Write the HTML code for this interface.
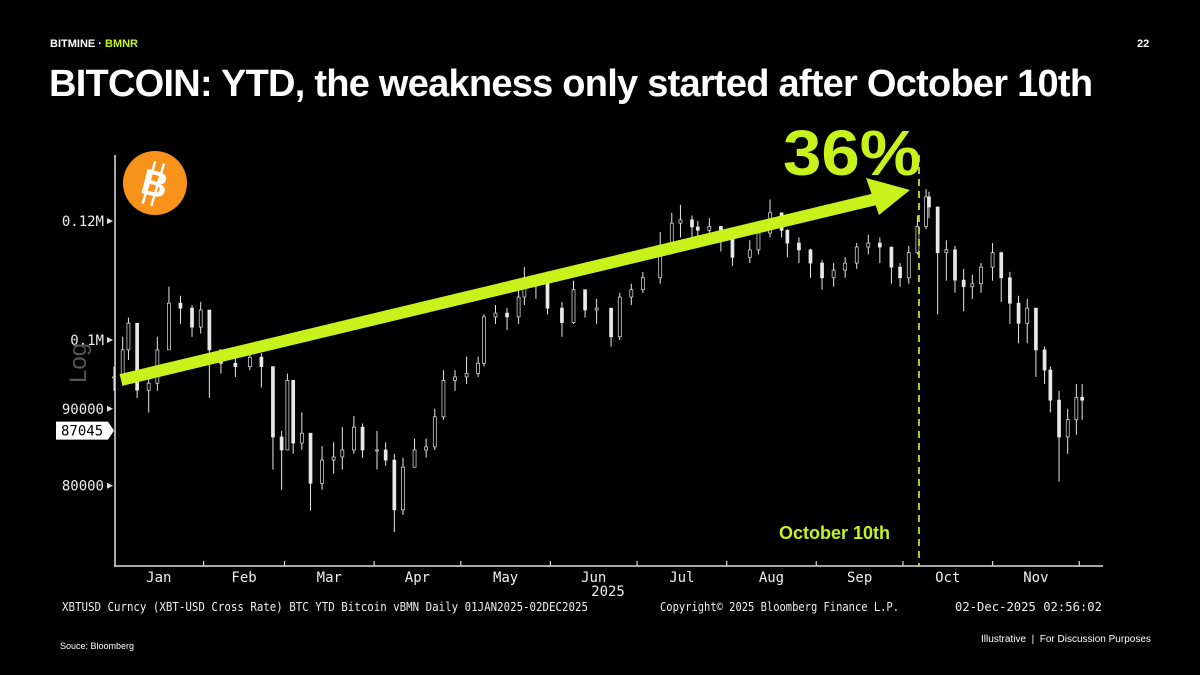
<!DOCTYPE html>
<html><head><meta charset="utf-8">
<style>
html,body{margin:0;padding:0;background:#000;}
body{width:1200px;height:675px;position:relative;overflow:hidden;font-family:"Liberation Sans",sans-serif;color:#fff;}
.a{position:absolute;white-space:nowrap;}
</style></head>
<body>
<div class="a" style="left:50px;top:38px;font-size:11px;font-weight:bold;">BITMINE · <span style="color:#c8f21c">BMNR</span></div>
<div class="a" style="left:1137px;top:38px;font-size:11px;font-weight:bold;">22</div>
<div class="a" style="left:49px;top:63px;font-size:38px;font-weight:bold;letter-spacing:-0.75px;">BITCOIN: YTD, the weakness only started after October 10th</div>
<svg id="chart" width="1200" height="675" style="position:absolute;left:0;top:0;"></svg>
<div class="a" style="left:60px;top:641px;font-size:9px;">Souce: Bloomberg</div>
<div class="a" style="left:981px;top:634px;font-size:10px;">Illustrative &nbsp;|&nbsp; For Discussion Purposes</div>
<script>
const dates=[1,4,6,9,13,16,20,24,28,31,34,38,43,48,52,56,59,61,63,66,69,73,77,80,84,87,92,95,98,101,105,109,112,115,119,123,127,129,133,137,141,143,147,151,156,160,164,168,173,176,180,184,190,194,197,201,203,207,211,215,221,224,228,232,234,238,242,246,250,254,258,262,266,270,273,276,279,282,283,286,289,292,295,298,301,305,308,311,314,317,320,323,325,328,331,334,336];
const closes=[94500,98500,102600,92600,93600,98500,105800,105000,102000,104700,98500,96500,96000,97400,96000,86200,84500,94000,85400,86700,80300,83200,83600,84500,87500,84500,84500,83200,77100,82300,84500,84900,88900,94000,94500,95000,96500,103600,104200,103600,106800,110000,109000,105000,102700,108000,104700,105000,100500,106800,108000,110000,114300,119600,120200,118900,118300,119000,117000,113500,114800,117800,121500,118300,116000,114800,112500,110000,111300,112500,115300,116000,115300,111800,110000,114300,119000,124500,122600,114300,114800,109600,108500,109000,111800,114300,110000,105800,102600,105000,98500,95500,91200,86200,88500,91600,91200,87000];
const highs=[96000,100500,103500,99000,95500,100500,108500,107000,105500,106000,102500,98500,98500,99000,98000,92000,87000,95000,93000,89500,84000,85000,85500,87500,89000,88000,87000,85500,84000,83500,86000,86000,90000,95500,95500,97500,97500,104000,105500,105000,108000,111800,110500,108500,106000,109500,107000,106500,103000,107500,109000,111000,118000,121500,123000,121000,120000,120500,119000,117000,116500,119000,124000,121500,118500,117000,115000,113000,112500,113500,116000,117500,117000,114500,112500,115500,121000,126000,125500,122600,116500,115500,111500,110500,112500,116000,114500,111000,107000,106500,104000,99000,96000,92500,90000,93500,93500,92000];
const lows=[92500,93500,97000,91500,89500,92500,99000,102500,100500,101000,91500,95000,94500,95500,93000,82000,79500,85000,84000,84500,77000,79500,81500,82000,84000,83500,82000,82500,74500,76500,83000,83500,84500,88500,92500,93500,94500,96000,102500,101500,102500,105500,106500,104000,100500,102500,103500,102500,99000,100000,105500,107500,109000,114000,117000,116500,115500,116500,114500,112000,112500,114000,117000,117000,113500,112500,110000,108000,108500,110000,111500,114000,112500,109000,108500,109000,114000,118500,120500,104000,109500,107500,104500,106500,107500,109500,106000,102500,99500,99500,94500,93500,89500,80500,84000,86500,88500,84000];
const yTicks=[120000,100000,90000,80000];
const yTickLabels=["0.12M","0.1M","90000","80000"];
const monthStarts=[32,60,91,121,152,182,213,244,274,305,335];
const monthLabels=["Jan","Feb","Mar","Apr","May","Jun","Jul","Aug","Sep","Oct","Nov"];
const lastPrice=[87045];
const NS="http://www.w3.org/2000/svg";
const svg=document.getElementById('chart');
const xS=d=>114+(d-1)*2.89;
const yS=v=>340-653*Math.log(v/100000);
const MONO='"DejaVu Sans Mono","Liberation Mono",monospace';
function mk(t,a,p){const e=document.createElementNS(NS,t);for(const k in a)e.setAttribute(k,a[k]);(p||svg).appendChild(e);return e;}
let e;
e=mk('line',{x1:115,y1:155,x2:115,y2:566,stroke:'#ddd','stroke-width':1.5});


e=mk('line',{x1:114,y1:566,x2:1103,y2:566,stroke:'#ddd','stroke-width':1.5});


yTicks.forEach((v,i)=>{const y=yS(v);
 e=mk('path',{d:`M107 ${y-3} L113 ${y} L107 ${y+3}Z`,fill:'#ddd'});
 
 
 e=mk('text',{x:104,y:y+5,'text-anchor':'end','font-size':14,fill:'#eee','font-family':MONO});
 e.textContent=yTickLabels[i];
 
 
});
monthStarts.forEach((d,i)=>{const x=xS(d);
 e=mk('line',{x1:x,y1:561,x2:x,y2:566,stroke:'#ddd','stroke-width':1.2});
 
 
 const prev=i==0?1:monthStarts[i-1];
 e=mk('text',{x:(xS(prev)+x)/2,y:582,'text-anchor':'middle','font-size':14,fill:'#eee','font-family':MONO});
 e.textContent=monthLabels[i];
 
 
});
e=mk('text',{x:608,y:596,'text-anchor':'middle','font-size':14,fill:'#eee','font-family':MONO});
e.textContent='2025';


e=mk('text',{x:0,y:0,'font-size':24,fill:'#555',transform:'translate(86,383) rotate(-90)'});
e.textContent='Log';


for(let i=0;i<dates.length;i++){
 const x=xS(dates[i]);const o=i?closes[i-1]:closes[i];const c=closes[i];
 const g=mk('g',{});
 
 
 mk('line',{x1:x,y1:yS(highs[i]),x2:x,y2:yS(lows[i]),stroke:'#e8e8e8','stroke-width':1},g);
 const top=yS(Math.max(o,c)),bot=yS(Math.min(o,c));
 mk('rect',{x:x-1.5,y:top,width:3,height:Math.max(1,bot-top),fill:c>=o?'#000':'#e8e8e8',stroke:'#e8e8e8','stroke-width':0.7},g);
}
const ly=yS(lastPrice[0]);
e=mk('path',{d:`M56 ${ly-9} L108 ${ly-9} L114 ${ly} L108 ${ly+9} L56 ${ly+9}Z`,fill:'#fff'});


e=mk('text',{x:61,y:ly+5,'font-size':14,fill:'#000','font-family':MONO});
e.textContent=String(lastPrice[0]);


e=mk('line',{x1:919,y1:155,x2:919,y2:566,stroke:'#b5e61d','stroke-width':1.8,'stroke-dasharray':'7,5'});


e=mk('text',{x:779,y:539,'font-size':18,'font-weight':'bold',fill:'#c8f21c'});
e.textContent='October 10th';


e=mk('line',{x1:121,y1:380,x2:876,y2:199,stroke:'#c8f21c','stroke-width':12});


e=mk('path',{d:'M910 190 L866 178 L879 215Z',fill:'#c8f21c'});


e=mk('text',{x:783,y:175,'font-size':64,'font-weight':'bold',fill:'#c8f21c',textLength:138,lengthAdjust:'spacingAndGlyphs'});
e.textContent='36%';


const lg=mk('g',{});


mk('circle',{cx:155,cy:183,r:32,fill:'#f7931a'},lg);
mk('text',{x:155,y:196,'text-anchor':'middle','font-size':36,'font-weight':'bold',fill:'#fff',transform:'rotate(14 155 183)'},lg).textContent='B';
mk('line',{x1:150,y1:162,x2:148,y2:206,stroke:'#fff','stroke-width':2.5,transform:'rotate(14 155 183)'},lg);
mk('line',{x1:159,y1:162,x2:157,y2:206,stroke:'#fff','stroke-width':2.5,transform:'rotate(14 155 183)'},lg);
e=mk('text',{x:62,y:611,'font-size':12.5,fill:'#eee','font-family':MONO,textLength:526,lengthAdjust:'spacingAndGlyphs'});
e.textContent='XBTUSD Curncy (XBT-USD Cross Rate) BTC YTD Bitcoin vBMN Daily 01JAN2025-02DEC2025';


e=mk('text',{x:660,y:611,'font-size':12.5,fill:'#eee','font-family':MONO,textLength:239,lengthAdjust:'spacingAndGlyphs'});
e.textContent='Copyright© 2025 Bloomberg Finance L.P.';


e=mk('text',{x:955,y:611,'font-size':12.5,fill:'#eee','font-family':MONO,textLength:147,lengthAdjust:'spacingAndGlyphs'});
e.textContent='02-Dec-2025 02:56:02';


</script>
</body></html>
